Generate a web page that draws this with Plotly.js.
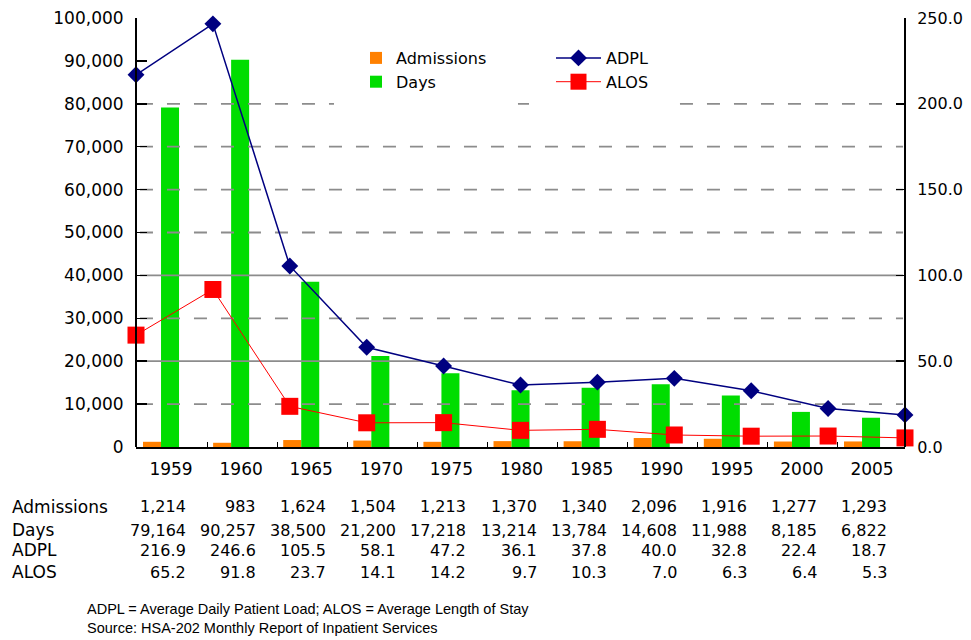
<!DOCTYPE html>
<html>
<head>
<meta charset="utf-8">
<script src="https://cdn.plot.ly/plotly-3.0.1.min.js"></script>
<style>
  html, body { margin: 0; padding: 0; background: #fff; }
  #chart { width: 971px; height: 640px; }
</style>
</head>
<body>
<div id="chart"></div>
<script>
// Inpatient service history, 1959-2005
const years = ['1959', '1960', '1965', '1970', '1975', '1980', '1985', '1990', '1995', '2000', '2005'];
const admissions = [1214, 983, 1624, 1504, 1213, 1370, 1340, 2096, 1916, 1277, 1293];
const days = [79164, 90257, 38500, 21200, 17218, 13214, 13784, 14608, 11988, 8185, 6822];
const adpl = [216.9, 246.6, 105.5, 58.1, 47.2, 36.1, 37.8, 40.0, 32.8, 22.4, 18.7];
const alos = [65.2, 91.8, 23.7, 14.1, 14.2, 9.7, 10.3, 7.0, 6.3, 6.4, 5.3];

const leftTicks = [0, 10000, 20000, 30000, 40000, 50000, 60000, 70000, 80000, 90000, 100000];
const rightTicks = [0, 50, 100, 150, 200, 250];
const leftGrid = [10000, 30000, 50000, 60000, 70000, 80000];
const rightGrid = [50, 100];

const footnotes = [
  'ADPL = Average Daily Patient Load; ALOS = Average Length of Stay',
  'Source: HSA-202 Monthly Report of Inpatient Services'
];

// outer frame (line points reach its edges) and the inner axis frame
const W = 971, H = 640;
const L = 132, R = 907, T = 18, B = 447;
const axL = 136, axR = 905;
const px = x => (x - L) / (R - L);
const py = y => (B - y) / (B - T);

const leftRange = [0, 100000];
const rightRange = [0, 250];
const toRight = v => v * (rightRange[1] - rightRange[0]) / (leftRange[1] - leftRange[0]);

const idx = years.map((_, i) => i);
const xRange = [-0.357, 10.613];      // bar axis
const x2Range = [0, years.length - 1]; // line axis

const FONT = 'DejaVu Sans, Verdana, sans-serif';

// grid lines, drawn above the bars and under the lines
function gridTrace(vals, dash, toY) {
  const a = x2Range[0] + (x2Range[1] - x2Range[0]) * px(axL);
  const b = x2Range[0] + (x2Range[1] - x2Range[0]) * px(axR);
  const x = [], y = [];
  vals.forEach(v => { x.push(a, b, null); y.push(toY(v), toY(v), null); });
  return {
    x, y, xaxis: 'x2', yaxis: 'y2', type: 'scatter', mode: 'lines',
    line: { color: '#8c8c8c', width: 1.8, dash: dash },
    hoverinfo: 'skip', showlegend: false
  };
}

const barW = 0.257;
const traces = [
  {
    name: 'Admissions', type: 'bar', x: idx, y: admissions,
    width: barW, offset: -barW, marker: { color: '#FF8000', line: { width: 0 } },
    legend: 'legend'
  },
  {
    name: 'Days', type: 'bar', x: idx, y: days,
    width: barW, offset: 0, marker: { color: '#00DD00', line: { width: 0 } },
    legend: 'legend'
  },
  gridTrace(leftGrid, '13px,14px', toRight),
  gridTrace(rightGrid, 'solid', v => v),
  {
    name: 'ADPL', type: 'scatter', mode: 'lines+markers', x: idx, y: adpl,
    xaxis: 'x2', yaxis: 'y2', cliponaxis: false,
    line: { color: '#000080', width: 1.5 },
    marker: { symbol: 'diamond', size: 13, color: '#000080' },
    legend: 'legend2'
  },
  {
    name: 'ALOS', type: 'scatter', mode: 'lines+markers', x: idx, y: alos,
    xaxis: 'x2', yaxis: 'y2', cliponaxis: false,
    line: { color: '#FF0000', width: 1 },
    marker: { symbol: 'square', size: 17, color: '#FF0000' },
    legend: 'legend2'
  }
];

// data table under the chart
const annotations = [];
const rows = [
  { label: 'Admissions', vals: admissions.map(v => v.toLocaleString('en-US')), y: 507 },
  { label: 'Days', vals: days.map(v => v.toLocaleString('en-US')), y: 530 },
  { label: 'ADPL', vals: adpl.map(v => v.toFixed(1)), y: 550 },
  { label: 'ALOS', vals: alos.map(v => v.toFixed(1)), y: 572 }
];
rows.forEach(r => {
  annotations.push({
    text: r.label, xref: 'paper', yref: 'paper', x: px(10), y: py(r.y),
    xanchor: 'left', yanchor: 'middle', showarrow: false,
    font: { family: FONT, size: 17, color: '#000' }
  });
  r.vals.forEach((t, i) => {
    annotations.push({
      text: t, xref: 'x', yref: 'paper', x: i, y: py(r.y), xshift: 27,
      xanchor: 'right', yanchor: 'middle', showarrow: false,
      font: { family: FONT, size: 16, color: '#000' }
    });
  });
});
footnotes.forEach((t, k) => {
  annotations.push({
    text: t, xref: 'paper', yref: 'paper', x: px(85), y: py(609 + k * 19),
    xanchor: 'left', yanchor: 'middle', showarrow: false,
    font: { family: 'Liberation Sans, Arial, sans-serif', size: 14.5, color: '#000' }
  });
});

const legendFont = { family: FONT, size: 16, color: '#000' };
const layout = {
  width: W, height: H,
  margin: { l: L, r: W - R, t: T, b: H - B, pad: 0 },
  paper_bgcolor: '#fff', plot_bgcolor: '#fff',
  font: { family: FONT, color: '#000' },
  barmode: 'overlay',
  xaxis: {
    domain: [px(axL), px(axR)],
    range: xRange, tickvals: idx, ticktext: years, ticks: '',
    ticklabelshift: 10, ticklabelstandoff: 6,
    showline: true, linecolor: '#000', linewidth: 2,
    showgrid: false, zeroline: false, fixedrange: true,
    tickfont: { family: FONT, size: 17, color: '#000' },
    minor: { tick0: 0.656, dtick: 1, ticks: 'inside', ticklen: 5, tickcolor: '#000', tickwidth: 1, showgrid: false }
  },
  xaxis2: { overlaying: 'x', domain: [0, 1], range: x2Range, visible: false, fixedrange: true },
  yaxis: {
    anchor: 'free', position: px(axL),
    range: leftRange, tickvals: leftTicks, tickformat: ',', ticks: 'inside', ticklen: 10,
    tickcolor: '#000', tickwidth: 1.5, ticklabelstandoff: 8,
    showline: true, linecolor: '#000', linewidth: 2,
    showgrid: false, zeroline: false, fixedrange: true,
    tickfont: { family: FONT, size: 17, color: '#000' }
  },
  yaxis2: {
    overlaying: 'y', side: 'right', anchor: 'free', position: px(axR),
    range: rightRange, tickvals: rightTicks,
    tickformat: '.1f', ticks: 'inside', ticklen: 8, tickcolor: '#000', tickwidth: 1.5,
    ticklabelstandoff: 8,
    showline: true, linecolor: '#000', linewidth: 2,
    showgrid: false, zeroline: false, fixedrange: true,
    tickfont: { family: FONT, size: 16, color: '#000' }
  },
  legend: {
    x: px(334), y: py(19), xanchor: 'left', yanchor: 'top',
    bgcolor: '#fff', bordercolor: '#fff', borderwidth: 22,
    font: legendFont, traceorder: 'normal'
  },
  legend2: {
    x: px(529), y: py(19), xanchor: 'left', yanchor: 'top',
    bgcolor: '#fff', bordercolor: '#fff', borderwidth: 22,
    font: legendFont, traceorder: 'normal', itemwidth: 45
  },
  annotations: annotations,
  showlegend: true
};

Plotly.newPlot('chart', traces, layout, { displayModeBar: false, staticPlot: true });
</script>
</body>
</html>
